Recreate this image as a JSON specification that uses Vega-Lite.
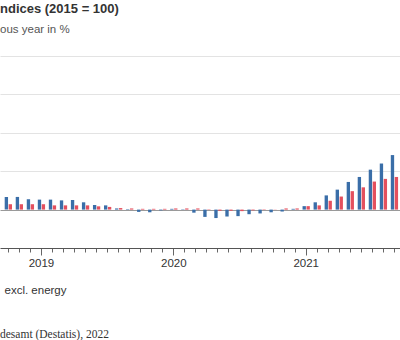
{
  "$schema": "https://vega.github.io/schema/vega-lite/v6.json",
  "padding": {"top": 2, "left": 0, "right": 0, "bottom": 0},
  "config": {"view": {"stroke": null}, "font": "Liberation Sans"},
  "title": {"text": "desamt (Destatis), 2022", "orient": "bottom", "anchor": "start", "font": "Liberation Serif", "fontSize": 11.5, "fontWeight": "normal", "color": "#333333", "offset": 33},
  "vconcat": [
    {
      "width": 400,
      "height": 192,
      "title": {"text": "ndices (2015 = 100)", "subtitle": "ous year in %", "anchor": "start", "frame": "group", "font": "Liberation Sans", "fontSize": 13, "fontWeight": "bold", "color": "#333333", "subtitleFont": "Liberation Sans", "subtitleFontSize": 11.5, "subtitleColor": "#555555", "subtitlePadding": 8, "offset": 21},
      "data": {"values": [
        {"m": "2018-10", "s": "total", "v": 3.3}, {"m": "2018-10", "s": "excl. energy", "v": 1.4},
        {"m": "2018-11", "s": "total", "v": 3.3}, {"m": "2018-11", "s": "excl. energy", "v": 1.4},
        {"m": "2018-12", "s": "total", "v": 2.7}, {"m": "2018-12", "s": "excl. energy", "v": 1.4},
        {"m": "2019-01", "s": "total", "v": 2.6}, {"m": "2019-01", "s": "excl. energy", "v": 1.4},
        {"m": "2019-02", "s": "total", "v": 2.6}, {"m": "2019-02", "s": "excl. energy", "v": 1.1},
        {"m": "2019-03", "s": "total", "v": 2.4}, {"m": "2019-03", "s": "excl. energy", "v": 1.1},
        {"m": "2019-04", "s": "total", "v": 2.5}, {"m": "2019-04", "s": "excl. energy", "v": 1.1},
        {"m": "2019-05", "s": "total", "v": 1.9}, {"m": "2019-05", "s": "excl. energy", "v": 1.1},
        {"m": "2019-06", "s": "total", "v": 1.2}, {"m": "2019-06", "s": "excl. energy", "v": 0.85},
        {"m": "2019-07", "s": "total", "v": 1.1}, {"m": "2019-07", "s": "excl. energy", "v": 0.7},
        {"m": "2019-08", "s": "total", "v": 0.3}, {"m": "2019-08", "s": "excl. energy", "v": 0.4},
        {"m": "2019-09", "s": "total", "v": -0.1}, {"m": "2019-09", "s": "excl. energy", "v": 0.3},
        {"m": "2019-10", "s": "total", "v": -0.6}, {"m": "2019-10", "s": "excl. energy", "v": 0.2},
        {"m": "2019-11", "s": "total", "v": -0.7}, {"m": "2019-11", "s": "excl. energy", "v": 0.2},
        {"m": "2019-12", "s": "total", "v": -0.2}, {"m": "2019-12", "s": "excl. energy", "v": 0.2},
        {"m": "2020-01", "s": "total", "v": 0.2}, {"m": "2020-01", "s": "excl. energy", "v": 0.3},
        {"m": "2020-02", "s": "total", "v": -0.1}, {"m": "2020-02", "s": "excl. energy", "v": 0.3},
        {"m": "2020-03", "s": "total", "v": -0.8}, {"m": "2020-03", "s": "excl. energy", "v": 0.3},
        {"m": "2020-04", "s": "total", "v": -1.9}, {"m": "2020-04", "s": "excl. energy", "v": -0.1},
        {"m": "2020-05", "s": "total", "v": -2.2}, {"m": "2020-05", "s": "excl. energy", "v": -0.3},
        {"m": "2020-06", "s": "total", "v": -1.8}, {"m": "2020-06", "s": "excl. energy", "v": -0.3},
        {"m": "2020-07", "s": "total", "v": -1.7}, {"m": "2020-07", "s": "excl. energy", "v": -0.4},
        {"m": "2020-08", "s": "total", "v": -1.2}, {"m": "2020-08", "s": "excl. energy", "v": -0.2},
        {"m": "2020-09", "s": "total", "v": -1.0}, {"m": "2020-09", "s": "excl. energy", "v": -0.1},
        {"m": "2020-10", "s": "total", "v": -0.7}, {"m": "2020-10", "s": "excl. energy", "v": 0.05},
        {"m": "2020-11", "s": "total", "v": -0.5}, {"m": "2020-11", "s": "excl. energy", "v": 0.3},
        {"m": "2020-12", "s": "total", "v": 0.2}, {"m": "2020-12", "s": "excl. energy", "v": 0.3},
        {"m": "2021-01", "s": "total", "v": 0.9}, {"m": "2021-01", "s": "excl. energy", "v": 0.9},
        {"m": "2021-02", "s": "total", "v": 1.9}, {"m": "2021-02", "s": "excl. energy", "v": 1.1},
        {"m": "2021-03", "s": "total", "v": 3.7}, {"m": "2021-03", "s": "excl. energy", "v": 2.3},
        {"m": "2021-04", "s": "total", "v": 5.2}, {"m": "2021-04", "s": "excl. energy", "v": 3.4},
        {"m": "2021-05", "s": "total", "v": 7.2}, {"m": "2021-05", "s": "excl. energy", "v": 4.8},
        {"m": "2021-06", "s": "total", "v": 8.5}, {"m": "2021-06", "s": "excl. energy", "v": 5.8},
        {"m": "2021-07", "s": "total", "v": 10.4}, {"m": "2021-07", "s": "excl. energy", "v": 7.3},
        {"m": "2021-08", "s": "total", "v": 12.0}, {"m": "2021-08", "s": "excl. energy", "v": 8.0},
        {"m": "2021-09", "s": "total", "v": 14.2}, {"m": "2021-09", "s": "excl. energy", "v": 8.5}
      ]},
      "mark": {"type": "bar"},
      "encoding": {
        "x": {
          "field": "m", "type": "ordinal",
          "scale": {"paddingInner": 0.34, "paddingOuter": 0.3, "align": 0.71, "round": false},
          "axis": {
            "title": "excl. energy", "titleFont": "Liberation Sans", "titleFontSize": 11.5, "titleFontWeight": "normal", "titleColor": "#333333",
            "titleAnchor": "start", "titleAlign": "left", "titleX": 4, "titlePadding": 16,
            "labelExpr": "substring(datum.value,5,7)=='01' ? substring(datum.value,0,4) : ''",
            "labelAngle": 0, "labelFontSize": 11.5, "labelColor": "#333333", "labelPadding": 2, "labelOverlap": false, "labelBound": false,
            "tickColor": "#666666",
            "tickSize": {"condition": {"test": "substring(datum.value,5,7)=='01'", "value": 7}, "value": 4},
            "domainColor": "#555555", "grid": false
          }
        },
        "xOffset": {"field": "s", "type": "nominal", "sort": ["total", "excl. energy"], "scale": {"paddingInner": 0.15}},
        "y": {
          "field": "v", "type": "quantitative",
          "scale": {"domain": [-10, 40], "nice": false},
          "axis": {"title": null, "labels": false, "ticks": false, "domain": false, "values": [0, 10, 20, 30, 40],
            "gridColor": {"condition": {"test": "datum.value === 0", "value": "#9a9a9a"}, "value": "#e3e3e3"}}
        },
        "color": {"field": "s", "type": "nominal", "scale": {"domain": ["total", "excl. energy"], "range": ["#3a6ea8", "#e4505e"]}, "legend": null}
      }
    }
  ]
}
